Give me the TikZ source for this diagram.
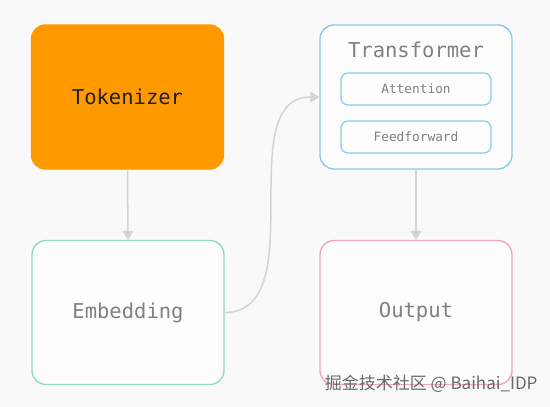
\documentclass[tikz,border=0pt]{standalone}
\usepackage{fontspec}
\setmonofont{DejaVu Sans Mono}
\newfontfamily\cjk{Noto Sans CJK SC}
\usetikzlibrary{arrows.meta}
\definecolor{bg}{RGB}{249,249,250}
\definecolor{tokfill}{RGB}{255,153,0}
\definecolor{embline}{RGB}{146,218,196}
\definecolor{trline}{RGB}{137,204,234}
\definecolor{outline}{RGB}{243,166,199}
\definecolor{arrowc}{RGB}{212,212,216}
\definecolor{txtgrey}{RGB}{128,128,128}
\definecolor{wmgrey}{RGB}{105,105,105}
\tikzset{
  bigbox/.style={rounded corners=14pt, line width=1.4pt, minimum width=192pt, minimum height=144pt, inner sep=0pt, font=\ttfamily\fontsize{20.5}{24}\selectfont, text=txtgrey, fill=white!60!bg},
  smallbox/.style={rounded corners=7pt, line width=1.2pt, draw=trline, minimum width=150pt, minimum height=32pt, inner sep=0pt, font=\ttfamily\fontsize{12.8}{15}\selectfont, text=txtgrey},
  conn/.style={draw=arrowc, line width=1.5pt, -{Triangle[width=11pt,length=9pt]}},
}
\begin{document}
\begin{tikzpicture}[x=1pt,y=-1pt]
\useasboundingbox[fill=bg] (0,0) rectangle (550,407);
\node[bigbox, fill=tokfill, draw=tokfill, text=black!88] (tok) at (127.5,97) {Tokenizer};
\node[bigbox, draw=embline] (emb) at (128,312.5) {Embedding};
\node[bigbox, draw=trline] (tr) at (416,97) {};
\node[font=\ttfamily\fontsize{20.5}{24}\selectfont, text=txtgrey] (trt) at (416,50) {Transformer};
\node[smallbox] (att) at (416,89) {Attention};
\node[smallbox] (ff) at (416,137) {Feedforward};
\node[bigbox, draw=outline] (out) at (416,312.5) {Output};
\draw[conn] (tok.south) -- (emb.north);
\draw[conn] (tr.south) -- (out.north);
\draw[conn] (emb.east) .. controls (314,312) and (230,97) .. (tr.west);
\node[font=\cjk\fontsize{17}{19}\selectfont, text=wmgrey, anchor=east] (wm) at (541,384) {掘金技术社区 @ Baihai\_IDP};
\end{tikzpicture}
\end{document}
